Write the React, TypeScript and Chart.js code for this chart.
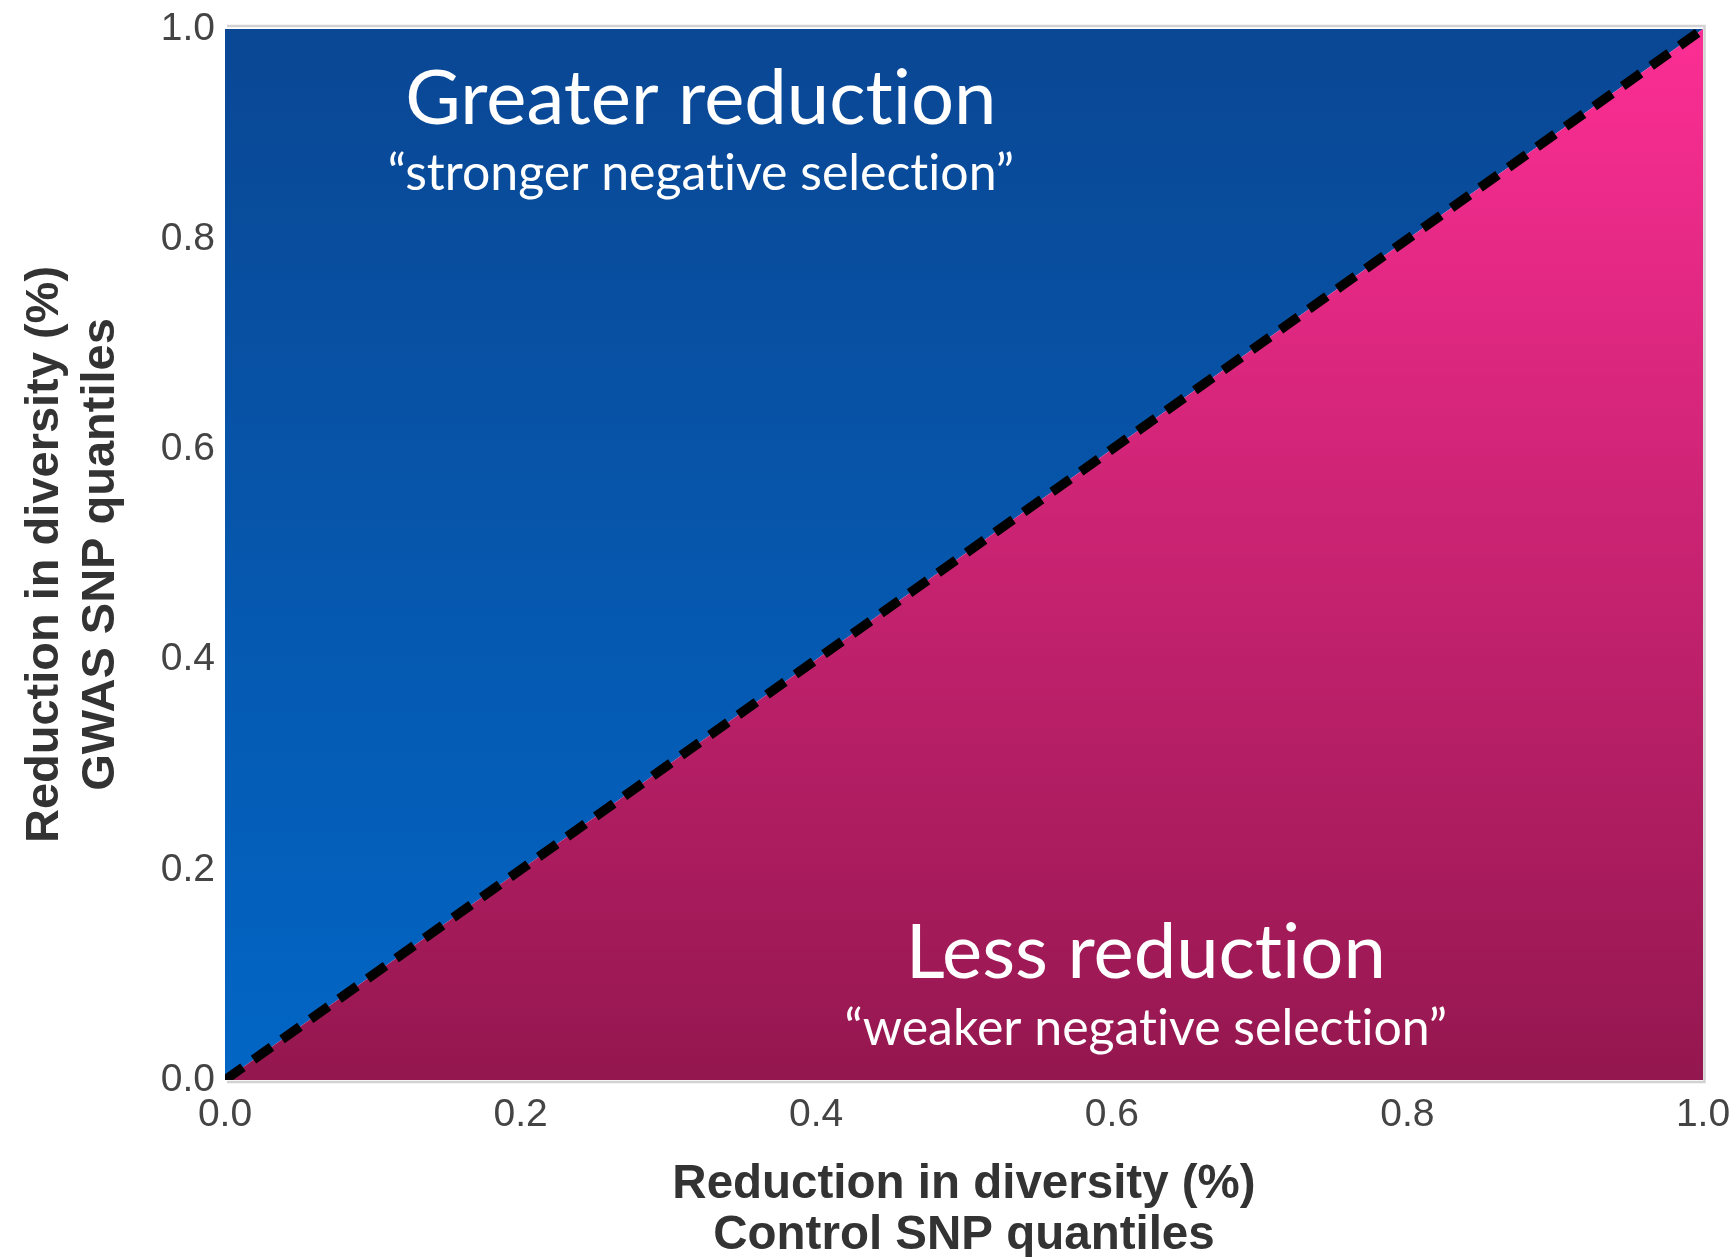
import React, { useEffect, useRef } from "react";
import { Chart, registerables } from "chart.js";

Chart.register(...registerables);

// ---- data ----
const diagonalX: number[] = [0, 1];
const diagonalY: number[] = [0, 1];
const tickValues: number[] = [0, 0.2, 0.4, 0.6, 0.8, 1.0];
const xTitleLines: string[] = ["Reduction in diversity (%)", "Control SNP quantiles"];
const yTitleLines: string[] = ["Reduction in diversity (%)", "GWAS SNP quantiles"];
const regionTitles: string[] = ["Greater reduction", "Less reduction"];
const regionSubtitles: string[] = ["\u201Cstronger negative selection\u201D", "\u201Cweaker negative selection\u201D"];

const W = 1733;
const H = 1257;

function makeGradient(chart: any, top: string, bottom: string) {
  const ca = chart.chartArea;
  if (!ca) return top;
  const g = chart.ctx.createLinearGradient(0, ca.top, 0, ca.bottom);
  g.addColorStop(0, top);
  g.addColorStop(1, bottom);
  return g;
}

const labelPlugin = {
  id: "regionLabels",
  afterDatasetsDraw(chart: any) {
    const { ctx, scales } = chart;
    const anchors = [
      { x: 0.322, yt: 0.9096, ys: 0.847 },
      { x: 0.623, yt: 0.097, ys: 0.033 },
    ];
    ctx.save();
    ctx.fillStyle = "#ffffff";
    ctx.textAlign = "center";
    ctx.textBaseline = "alphabetic";
    try {
      (ctx as any).textRendering = "optimizeSpeed";
    } catch (e) {}
    regionTitles.forEach((t, i) => {
      const a = anchors[i];
      const px = scales.x.getPixelForValue(a.x);
      ctx.font = "76px Lato, 'Open Sans', sans-serif";
      ctx.fillText(t, px, scales.y.getPixelForValue(a.yt));
      ctx.font = "50px Lato, 'Open Sans', sans-serif";
      ctx.fillText(regionSubtitles[i], px, scales.y.getPixelForValue(a.ys));
    });
    ctx.restore();
  },
};

const framePlugin = {
  id: "frame",
  afterDraw(chart: any) {
    const { ctx, chartArea: ca } = chart;
    ctx.save();
    ctx.strokeStyle = "#d2d2d2";
    ctx.lineWidth = 2.5;
    ctx.beginPath();
    ctx.moveTo(ca.left + 2, ca.top - 3);
    ctx.lineTo(ca.right + 1.5, ca.top - 3);
    ctx.lineTo(ca.right + 1.5, ca.bottom + 2);
    ctx.lineTo(ca.left + 2, ca.bottom + 2);
    ctx.stroke();
    ctx.restore();
  },
};

const hiddenGrid = (len: number) => ({
  display: true,
  drawOnChartArea: false,
  drawTicks: true,
  tickLength: len,
  color: "rgba(0,0,0,0)",
  tickColor: "rgba(0,0,0,0)",
});

export default function App() {
  const ref = useRef<HTMLCanvasElement | null>(null);
  useEffect(() => {
    if (!ref.current) return;
    const pts = diagonalX.map((x, i) => ({ x, y: diagonalY[i] }));
    const chart = new Chart(ref.current, {
      type: "line",
      data: {
        datasets: [
          {
            data: pts,
            borderWidth: 0,
            pointRadius: 0,
            fill: "end",
            backgroundColor: (c: any) => makeGradient(c.chart, "#0A4794", "#0266C5"),
            order: 3,
          },
          {
            data: pts,
            borderWidth: 0,
            pointRadius: 0,
            fill: "start",
            backgroundColor: (c: any) => makeGradient(c.chart, "#FC2E94", "#94174F"),
            order: 2,
          },
          {
            data: pts,
            borderColor: "#000000",
            borderWidth: 9.5,
            borderDash: [22, 13],
            borderCapStyle: "butt",
            pointRadius: 0,
            fill: false,
            order: 1,
          },
        ],
      } as any,
      options: {
        animation: false,
        responsive: false,
        maintainAspectRatio: false,
        devicePixelRatio: 1,
        layout: { padding: { top: 29, right: 30, left: 0, bottom: 0 } },
        plugins: { legend: { display: false }, tooltip: { enabled: false } },
        scales: {
          x: {
            type: "linear",
            min: 0,
            max: 1,
            afterFit: (s: any) => {
              s.height = 177;
            },
            afterBuildTicks: (s: any) => {
              s.ticks = tickValues.map((v) => ({ value: v }));
            },
            grid: hiddenGrid(12),
            border: { display: false },
            ticks: {
              padding: 0,
              color: "#444444",
              font: { family: "Arial, 'Liberation Sans', sans-serif", size: 39 },
              callback: (v: any) => Number(v).toFixed(1),
              autoSkip: false,
              maxRotation: 0,
            },
            title: {
              display: true,
              text: xTitleLines,
              color: "#333333",
              font: { family: "Arial, 'Liberation Sans', sans-serif", size: 47.5, weight: "bold", lineHeight: 1.07 },
              padding: { top: 0, bottom: -4 },
            },
          },
          y: {
            type: "linear",
            min: 0,
            max: 1,
            afterFit: (s: any) => {
              s.width = 225;
            },
            afterBuildTicks: (s: any) => {
              s.ticks = tickValues.map((v) => ({ value: v }));
            },
            grid: hiddenGrid(10),
            border: { display: false },
            ticks: {
              padding: 0,
              color: "#444444",
              font: { family: "Arial, 'Liberation Sans', sans-serif", size: 39 },
              callback: (v: any) => Number(v).toFixed(1),
              autoSkip: false,
            },
            title: {
              display: true,
              text: yTitleLines,
              color: "#333333",
              font: { family: "Arial, 'Liberation Sans', sans-serif", size: 47, weight: "bold", lineHeight: 1.19 },
              padding: { top: 17, bottom: 0 },
            },
          },
        },
      } as any,
      plugins: [labelPlugin, framePlugin],
    });
    return () => chart.destroy();
  }, []);
  return (
    <div style={{ position: "absolute", left: 0, top: 0, width: W, height: H, background: "#ffffff" }}>
      <canvas ref={ref} width={W} height={H} style={{ width: W, height: H, display: "block" }} />
    </div>
  );
}
